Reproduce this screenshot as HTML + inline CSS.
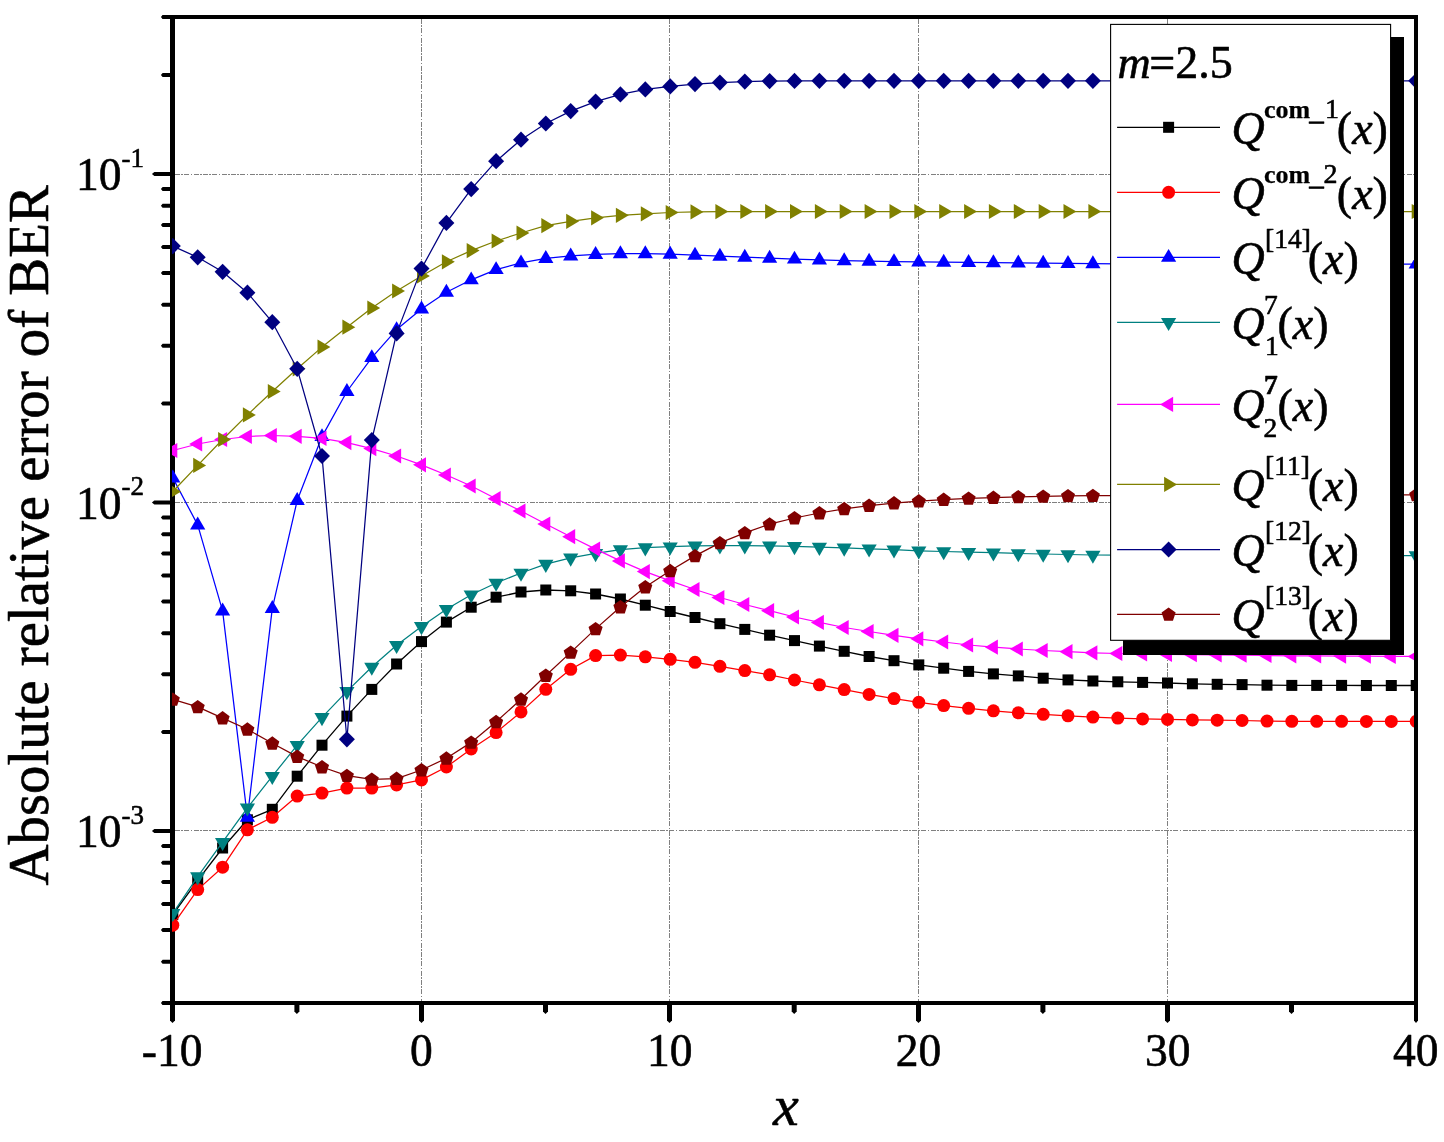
<!DOCTYPE html>
<html lang="en"><head><meta charset="utf-8"><title>Absolute relative error of BER, m=2.5</title>
<style>html,body{margin:0;padding:0;background:#fff}svg{display:block}text{font-family:"Liberation Serif",serif;fill:#000;stroke:#000;stroke-width:.6px;stroke-linejoin:round}</style>
</head><body>
<svg width="1444" height="1142" viewBox="0 0 1444 1142">
<rect width="1444" height="1142" fill="#fff"/>
<defs>
<g id="m-black"><rect x="-5.5" y="-5.5" width="11" height="11" fill="#000000"/></g>
<g id="m-red"><circle r="6.5" fill="#ff0000"/></g>
<g id="m-blue"><polygon points="0,-8.4 7.6,4.5 -7.6,4.5" fill="#0000ff"/></g>
<g id="m-teal"><polygon points="0,8.8 7.6,-4.3 -7.6,-4.3" fill="#008080"/></g>
<g id="m-magenta"><polygon points="-8.5,0 4.5,-7.6 4.5,7.6" fill="#ff00ff"/></g>
<g id="m-olive"><polygon points="8.4,0 -4.5,-7.6 -4.5,7.6" fill="#808000"/></g>
<g id="m-navy"><polygon points="0,-8.1 8,0 0,8.1 -8,0" fill="#000080"/></g>
<g id="m-maroon"><polygon points="0.00,-7.00 7.04,-1.89 4.35,6.39 -4.35,6.39 -7.04,-1.89" fill="#800000"/></g>
<clipPath id="plot"><rect x="172" y="19" width="1242" height="982"/></clipPath>
<clipPath id="leg"><rect x="1111" y="25" width="279.5" height="615"/></clipPath>
</defs>
<g stroke="#808080" stroke-width="1" stroke-dasharray="5 1.3 1.7 1.33" fill="none" shape-rendering="crispEdges">
<line x1="421.5" y1="19" x2="421.5" y2="1001"/>
<line x1="669.5" y1="19" x2="669.5" y2="1001"/>
<line x1="918.5" y1="19" x2="918.5" y2="1001"/>
<line x1="1167.5" y1="19" x2="1167.5" y2="1001"/>
<line x1="175" y1="174.5" x2="1414" y2="174.5"/>
<line x1="175" y1="502.5" x2="1414" y2="502.5"/>
<line x1="175" y1="830.5" x2="1414" y2="830.5"/>
</g>
<g fill="#000" stroke="none">
<rect x="170" y="15" width="5" height="1005.4"/>
<rect x="1414" y="15" width="4" height="1005.4"/>
<rect x="162.6" y="15" width="1255.4" height="4"/>
<rect x="162.6" y="1001" width="1255.4" height="4"/>
<polygon points="160.9,17.0 162.6,15.0 172,15.0 172,19.0 162.6,19.0"/>
<polygon points="160.9,1003.0 162.6,1001.0 172,1001.0 172,1005.0 162.6,1005.0"/>
<polygon points="170.0,1003 175.0,1003 175.0,1020.5 172.5,1023.1 170.0,1020.5"/>
<polygon points="294.4,1003 299.4,1003 299.4,1011.4 296.9,1014.0 294.4,1011.4"/>
<polygon points="419.0,1003 424.0,1003 424.0,1020.5 421.5,1023.1 419.0,1020.5"/>
<polygon points="543.0,1003 548.0,1003 548.0,1011.4 545.5,1014.0 543.0,1011.4"/>
<polygon points="667.0,1003 672.0,1003 672.0,1020.5 669.5,1023.1 667.0,1020.5"/>
<polygon points="791.7,1003 796.7,1003 796.7,1011.4 794.2,1014.0 791.7,1011.4"/>
<polygon points="916.0,1003 921.0,1003 921.0,1020.5 918.5,1023.1 916.0,1020.5"/>
<polygon points="1040.4,1003 1045.4,1003 1045.4,1011.4 1042.9,1014.0 1040.4,1011.4"/>
<polygon points="1165.0,1003 1170.0,1003 1170.0,1020.5 1167.5,1023.1 1165.0,1020.5"/>
<polygon points="1289.0,1003 1294.0,1003 1294.0,1011.4 1291.5,1014.0 1289.0,1011.4"/>
<polygon points="1414.0,1003 1418.0,1003 1418.0,1020.5 1416.0,1023.1 1414.0,1020.5"/>
<polygon points="160.9,961.7 162.6,959.7 172,959.7 172,963.7 162.6,963.7"/>
<polygon points="160.9,929.9 162.6,927.9 172,927.9 172,931.9 162.6,931.9"/>
<polygon points="160.9,903.9 162.6,901.9 172,901.9 172,905.9 162.6,905.9"/>
<polygon points="160.9,881.9 162.6,879.9 172,879.9 172,883.9 162.6,883.9"/>
<polygon points="160.9,862.8 162.6,860.8 172,860.8 172,864.8 162.6,864.8"/>
<polygon points="160.9,846.0 162.6,844.0 172,844.0 172,848.0 162.6,848.0"/>
<polygon points="151.9,831.0 154.3,829.0 172,829.0 172,833.0 154.3,833.0"/>
<polygon points="160.9,732.1 162.6,730.1 172,730.1 172,734.1 162.6,734.1"/>
<polygon points="160.9,674.3 162.6,672.3 172,672.3 172,676.3 162.6,676.3"/>
<polygon points="160.9,633.2 162.6,631.2 172,631.2 172,635.2 162.6,635.2"/>
<polygon points="160.9,601.4 162.6,599.4 172,599.4 172,603.4 162.6,603.4"/>
<polygon points="160.9,575.4 162.6,573.4 172,573.4 172,577.4 162.6,577.4"/>
<polygon points="160.9,553.4 162.6,551.4 172,551.4 172,555.4 162.6,555.4"/>
<polygon points="160.9,534.3 162.6,532.3 172,532.3 172,536.3 162.6,536.3"/>
<polygon points="160.9,517.5 162.6,515.5 172,515.5 172,519.5 162.6,519.5"/>
<polygon points="151.9,502.5 154.3,500.5 172,500.5 172,504.5 154.3,504.5"/>
<polygon points="160.9,403.6 162.6,401.6 172,401.6 172,405.6 162.6,405.6"/>
<polygon points="160.9,345.8 162.6,343.8 172,343.8 172,347.8 162.6,347.8"/>
<polygon points="160.9,304.7 162.6,302.7 172,302.7 172,306.7 162.6,306.7"/>
<polygon points="160.9,272.9 162.6,270.9 172,270.9 172,274.9 162.6,274.9"/>
<polygon points="160.9,246.9 162.6,244.9 172,244.9 172,248.9 162.6,248.9"/>
<polygon points="160.9,224.9 162.6,222.9 172,222.9 172,226.9 162.6,226.9"/>
<polygon points="160.9,205.8 162.6,203.8 172,203.8 172,207.8 162.6,207.8"/>
<polygon points="160.9,189.0 162.6,187.0 172,187.0 172,191.0 162.6,191.0"/>
<polygon points="151.9,174.0 154.3,172.0 172,172.0 172,176.0 154.3,176.0"/>
<polygon points="160.9,75.1 162.6,73.1 172,73.1 172,77.1 162.6,77.1"/>
</g>
<g clip-path="url(#plot)">
<polyline points="172.8,914.5 197.7,880.4 222.6,848.0 247.4,819.8 272.3,809.3 297.2,776.2 322.0,745.2 346.9,716.1 371.8,689.4 396.6,664.0 421.5,641.6 446.4,622.1 471.2,607.2 496.1,597.2 521.0,592.0 545.8,590.0 570.7,590.8 595.6,594.0 620.4,599.0 645.3,605.2 670.2,611.5 695.0,617.5 719.9,623.7 744.8,629.4 769.6,635.2 794.5,640.6 819.4,646.1 844.2,651.3 869.1,656.5 894.0,660.7 918.8,664.9 943.7,668.2 968.6,671.4 993.4,673.9 1018.3,675.9 1043.2,678.2 1068.0,679.9 1092.9,681.0 1117.8,681.8 1142.6,682.4 1167.5,683.0 1192.4,683.8 1217.2,684.3 1242.1,684.6 1267.0,685.2 1291.8,685.4 1316.7,685.4 1341.6,685.4 1366.4,685.5 1391.3,685.5 1416.2,685.5" fill="none" stroke="#000000" stroke-width="1.3" stroke-linejoin="round"/>
<g><use href="#m-black" x="172.8" y="914.5"/><use href="#m-black" x="197.7" y="880.4"/><use href="#m-black" x="222.6" y="848.0"/><use href="#m-black" x="247.4" y="819.8"/><use href="#m-black" x="272.3" y="809.3"/><use href="#m-black" x="297.2" y="776.2"/><use href="#m-black" x="322.0" y="745.2"/><use href="#m-black" x="346.9" y="716.1"/><use href="#m-black" x="371.8" y="689.4"/><use href="#m-black" x="396.6" y="664.0"/><use href="#m-black" x="421.5" y="641.6"/><use href="#m-black" x="446.4" y="622.1"/><use href="#m-black" x="471.2" y="607.2"/><use href="#m-black" x="496.1" y="597.2"/><use href="#m-black" x="521.0" y="592.0"/><use href="#m-black" x="545.8" y="590.0"/><use href="#m-black" x="570.7" y="590.8"/><use href="#m-black" x="595.6" y="594.0"/><use href="#m-black" x="620.4" y="599.0"/><use href="#m-black" x="645.3" y="605.2"/><use href="#m-black" x="670.2" y="611.5"/><use href="#m-black" x="695.0" y="617.5"/><use href="#m-black" x="719.9" y="623.7"/><use href="#m-black" x="744.8" y="629.4"/><use href="#m-black" x="769.6" y="635.2"/><use href="#m-black" x="794.5" y="640.6"/><use href="#m-black" x="819.4" y="646.1"/><use href="#m-black" x="844.2" y="651.3"/><use href="#m-black" x="869.1" y="656.5"/><use href="#m-black" x="894.0" y="660.7"/><use href="#m-black" x="918.8" y="664.9"/><use href="#m-black" x="943.7" y="668.2"/><use href="#m-black" x="968.6" y="671.4"/><use href="#m-black" x="993.4" y="673.9"/><use href="#m-black" x="1018.3" y="675.9"/><use href="#m-black" x="1043.2" y="678.2"/><use href="#m-black" x="1068.0" y="679.9"/><use href="#m-black" x="1092.9" y="681.0"/><use href="#m-black" x="1117.8" y="681.8"/><use href="#m-black" x="1142.6" y="682.4"/><use href="#m-black" x="1167.5" y="683.0"/><use href="#m-black" x="1192.4" y="683.8"/><use href="#m-black" x="1217.2" y="684.3"/><use href="#m-black" x="1242.1" y="684.6"/><use href="#m-black" x="1267.0" y="685.2"/><use href="#m-black" x="1291.8" y="685.4"/><use href="#m-black" x="1316.7" y="685.4"/><use href="#m-black" x="1341.6" y="685.4"/><use href="#m-black" x="1366.4" y="685.5"/><use href="#m-black" x="1391.3" y="685.5"/><use href="#m-black" x="1416.2" y="685.5"/></g>
<polyline points="172.8,925.2 197.7,889.6 222.6,867.2 247.4,829.8 272.3,817.3 297.2,796.1 322.0,793.1 346.9,788.1 371.8,788.1 396.6,784.9 421.5,779.9 446.4,767.0 471.2,749.0 496.1,732.6 521.0,711.9 545.8,689.3 570.7,669.3 595.6,655.6 620.4,655.1 645.3,656.8 670.2,659.3 695.0,662.3 719.9,666.3 744.8,670.6 769.6,674.8 794.5,680.0 819.4,684.8 844.2,689.6 869.1,694.4 894.0,698.6 918.8,702.3 943.7,705.6 968.6,708.3 993.4,710.8 1018.3,712.8 1043.2,714.3 1068.0,715.8 1092.9,717.1 1117.8,718.1 1142.6,718.9 1167.5,719.4 1192.4,719.9 1217.2,720.2 1242.1,720.5 1267.0,721.1 1291.8,721.3 1316.7,721.3 1341.6,721.3 1366.4,721.4 1391.3,721.4 1416.2,721.4" fill="none" stroke="#ff0000" stroke-width="1.25" stroke-linejoin="round"/>
<g><use href="#m-red" x="172.8" y="925.2"/><use href="#m-red" x="197.7" y="889.6"/><use href="#m-red" x="222.6" y="867.2"/><use href="#m-red" x="247.4" y="829.8"/><use href="#m-red" x="272.3" y="817.3"/><use href="#m-red" x="297.2" y="796.1"/><use href="#m-red" x="322.0" y="793.1"/><use href="#m-red" x="346.9" y="788.1"/><use href="#m-red" x="371.8" y="788.1"/><use href="#m-red" x="396.6" y="784.9"/><use href="#m-red" x="421.5" y="779.9"/><use href="#m-red" x="446.4" y="767.0"/><use href="#m-red" x="471.2" y="749.0"/><use href="#m-red" x="496.1" y="732.6"/><use href="#m-red" x="521.0" y="711.9"/><use href="#m-red" x="545.8" y="689.3"/><use href="#m-red" x="570.7" y="669.3"/><use href="#m-red" x="595.6" y="655.6"/><use href="#m-red" x="620.4" y="655.1"/><use href="#m-red" x="645.3" y="656.8"/><use href="#m-red" x="670.2" y="659.3"/><use href="#m-red" x="695.0" y="662.3"/><use href="#m-red" x="719.9" y="666.3"/><use href="#m-red" x="744.8" y="670.6"/><use href="#m-red" x="769.6" y="674.8"/><use href="#m-red" x="794.5" y="680.0"/><use href="#m-red" x="819.4" y="684.8"/><use href="#m-red" x="844.2" y="689.6"/><use href="#m-red" x="869.1" y="694.4"/><use href="#m-red" x="894.0" y="698.6"/><use href="#m-red" x="918.8" y="702.3"/><use href="#m-red" x="943.7" y="705.6"/><use href="#m-red" x="968.6" y="708.3"/><use href="#m-red" x="993.4" y="710.8"/><use href="#m-red" x="1018.3" y="712.8"/><use href="#m-red" x="1043.2" y="714.3"/><use href="#m-red" x="1068.0" y="715.8"/><use href="#m-red" x="1092.9" y="717.1"/><use href="#m-red" x="1117.8" y="718.1"/><use href="#m-red" x="1142.6" y="718.9"/><use href="#m-red" x="1167.5" y="719.4"/><use href="#m-red" x="1192.4" y="719.9"/><use href="#m-red" x="1217.2" y="720.2"/><use href="#m-red" x="1242.1" y="720.5"/><use href="#m-red" x="1267.0" y="721.1"/><use href="#m-red" x="1291.8" y="721.3"/><use href="#m-red" x="1316.7" y="721.3"/><use href="#m-red" x="1341.6" y="721.3"/><use href="#m-red" x="1366.4" y="721.4"/><use href="#m-red" x="1391.3" y="721.4"/><use href="#m-red" x="1416.2" y="721.4"/></g>
<polyline points="172.8,477.9 197.7,524.9 222.6,610.9 247.4,817.3 272.3,608.4 297.2,500.5 322.0,436.6 346.9,391.5 371.8,357.6 396.6,329.6 421.5,309.0 446.4,292.2 471.2,279.8 496.1,269.6 521.0,262.8 545.8,258.4 570.7,255.9 595.6,254.4 620.4,253.7 645.3,253.7 670.2,254.2 695.0,255.2 719.9,256.2 744.8,257.2 769.6,258.2 794.5,259.1 819.4,259.9 844.2,260.7 869.1,261.2 894.0,261.6 918.8,261.9 943.7,262.2 968.6,262.4 993.4,262.7 1018.3,262.9 1043.2,263.2 1068.0,263.4 1092.9,263.7 1117.8,263.8 1142.6,263.8 1167.5,263.9 1192.4,263.9 1217.2,264.0 1242.1,264.0 1267.0,264.0 1291.8,264.0 1316.7,264.0 1341.6,264.0 1366.4,264.0 1391.3,264.0 1416.2,264.0" fill="none" stroke="#0000ff" stroke-width="1.25" stroke-linejoin="round"/>
<g><use href="#m-blue" x="172.8" y="477.9"/><use href="#m-blue" x="197.7" y="524.9"/><use href="#m-blue" x="222.6" y="610.9"/><use href="#m-blue" x="247.4" y="817.3"/><use href="#m-blue" x="272.3" y="608.4"/><use href="#m-blue" x="297.2" y="500.5"/><use href="#m-blue" x="322.0" y="436.6"/><use href="#m-blue" x="346.9" y="391.5"/><use href="#m-blue" x="371.8" y="357.6"/><use href="#m-blue" x="396.6" y="329.6"/><use href="#m-blue" x="421.5" y="309.0"/><use href="#m-blue" x="446.4" y="292.2"/><use href="#m-blue" x="471.2" y="279.8"/><use href="#m-blue" x="496.1" y="269.6"/><use href="#m-blue" x="521.0" y="262.8"/><use href="#m-blue" x="545.8" y="258.4"/><use href="#m-blue" x="570.7" y="255.9"/><use href="#m-blue" x="595.6" y="254.4"/><use href="#m-blue" x="620.4" y="253.7"/><use href="#m-blue" x="645.3" y="253.7"/><use href="#m-blue" x="670.2" y="254.2"/><use href="#m-blue" x="695.0" y="255.2"/><use href="#m-blue" x="719.9" y="256.2"/><use href="#m-blue" x="744.8" y="257.2"/><use href="#m-blue" x="769.6" y="258.2"/><use href="#m-blue" x="794.5" y="259.1"/><use href="#m-blue" x="819.4" y="259.9"/><use href="#m-blue" x="844.2" y="260.7"/><use href="#m-blue" x="869.1" y="261.2"/><use href="#m-blue" x="894.0" y="261.6"/><use href="#m-blue" x="918.8" y="261.9"/><use href="#m-blue" x="943.7" y="262.2"/><use href="#m-blue" x="968.6" y="262.4"/><use href="#m-blue" x="993.4" y="262.7"/><use href="#m-blue" x="1018.3" y="262.9"/><use href="#m-blue" x="1043.2" y="263.2"/><use href="#m-blue" x="1068.0" y="263.4"/><use href="#m-blue" x="1092.9" y="263.7"/><use href="#m-blue" x="1117.8" y="263.8"/><use href="#m-blue" x="1142.6" y="263.8"/><use href="#m-blue" x="1167.5" y="263.9"/><use href="#m-blue" x="1192.4" y="263.9"/><use href="#m-blue" x="1217.2" y="264.0"/><use href="#m-blue" x="1242.1" y="264.0"/><use href="#m-blue" x="1267.0" y="264.0"/><use href="#m-blue" x="1291.8" y="264.0"/><use href="#m-blue" x="1316.7" y="264.0"/><use href="#m-blue" x="1341.6" y="264.0"/><use href="#m-blue" x="1366.4" y="264.0"/><use href="#m-blue" x="1391.3" y="264.0"/><use href="#m-blue" x="1416.2" y="264.0"/></g>
<polyline points="172.8,913.3 197.7,876.6 222.6,842.2 247.4,807.8 272.3,776.2 297.2,745.2 322.0,717.4 346.9,691.4 371.8,667.0 396.6,645.3 421.5,626.4 446.4,609.2 471.2,594.7 496.1,583.0 521.0,573.0 545.8,564.1 570.7,557.9 595.6,553.4 620.4,549.6 645.3,547.6 670.2,546.7 695.0,545.9 719.9,545.7 744.8,545.7 769.6,545.9 794.5,546.4 819.4,547.1 844.2,547.9 869.1,548.8 894.0,549.7 918.8,550.8 943.7,551.5 968.6,552.2 993.4,552.7 1018.3,553.5 1043.2,554.0 1068.0,554.5 1092.9,555.0 1117.8,555.1 1142.6,555.2 1167.5,555.2 1192.4,555.3 1217.2,555.4 1242.1,555.4 1267.0,555.4 1291.8,555.4 1316.7,555.5 1341.6,555.5 1366.4,555.5 1391.3,555.5 1416.2,555.5" fill="none" stroke="#008080" stroke-width="1.25" stroke-linejoin="round"/>
<g><use href="#m-teal" x="172.8" y="913.3"/><use href="#m-teal" x="197.7" y="876.6"/><use href="#m-teal" x="222.6" y="842.2"/><use href="#m-teal" x="247.4" y="807.8"/><use href="#m-teal" x="272.3" y="776.2"/><use href="#m-teal" x="297.2" y="745.2"/><use href="#m-teal" x="322.0" y="717.4"/><use href="#m-teal" x="346.9" y="691.4"/><use href="#m-teal" x="371.8" y="667.0"/><use href="#m-teal" x="396.6" y="645.3"/><use href="#m-teal" x="421.5" y="626.4"/><use href="#m-teal" x="446.4" y="609.2"/><use href="#m-teal" x="471.2" y="594.7"/><use href="#m-teal" x="496.1" y="583.0"/><use href="#m-teal" x="521.0" y="573.0"/><use href="#m-teal" x="545.8" y="564.1"/><use href="#m-teal" x="570.7" y="557.9"/><use href="#m-teal" x="595.6" y="553.4"/><use href="#m-teal" x="620.4" y="549.6"/><use href="#m-teal" x="645.3" y="547.6"/><use href="#m-teal" x="670.2" y="546.7"/><use href="#m-teal" x="695.0" y="545.9"/><use href="#m-teal" x="719.9" y="545.7"/><use href="#m-teal" x="744.8" y="545.7"/><use href="#m-teal" x="769.6" y="545.9"/><use href="#m-teal" x="794.5" y="546.4"/><use href="#m-teal" x="819.4" y="547.1"/><use href="#m-teal" x="844.2" y="547.9"/><use href="#m-teal" x="869.1" y="548.8"/><use href="#m-teal" x="894.0" y="549.7"/><use href="#m-teal" x="918.8" y="550.8"/><use href="#m-teal" x="943.7" y="551.5"/><use href="#m-teal" x="968.6" y="552.2"/><use href="#m-teal" x="993.4" y="552.7"/><use href="#m-teal" x="1018.3" y="553.5"/><use href="#m-teal" x="1043.2" y="554.0"/><use href="#m-teal" x="1068.0" y="554.5"/><use href="#m-teal" x="1092.9" y="555.0"/><use href="#m-teal" x="1117.8" y="555.1"/><use href="#m-teal" x="1142.6" y="555.2"/><use href="#m-teal" x="1167.5" y="555.2"/><use href="#m-teal" x="1192.4" y="555.3"/><use href="#m-teal" x="1217.2" y="555.4"/><use href="#m-teal" x="1242.1" y="555.4"/><use href="#m-teal" x="1267.0" y="555.4"/><use href="#m-teal" x="1291.8" y="555.4"/><use href="#m-teal" x="1316.7" y="555.5"/><use href="#m-teal" x="1341.6" y="555.5"/><use href="#m-teal" x="1366.4" y="555.5"/><use href="#m-teal" x="1391.3" y="555.5"/><use href="#m-teal" x="1416.2" y="555.5"/></g>
<polyline points="172.8,450.5 197.7,444.0 222.6,439.5 247.4,436.5 272.3,435.5 297.2,436.3 322.0,438.4 346.9,442.6 371.8,448.6 396.6,456.0 421.5,464.8 446.4,475.0 471.2,486.0 496.1,498.7 521.0,511.0 545.8,524.0 570.7,536.7 595.6,549.1 620.4,560.9 645.3,571.6 670.2,580.8 695.0,589.5 719.9,597.5 744.8,604.5 769.6,610.7 794.5,617.0 819.4,622.4 844.2,627.5 869.1,631.5 894.0,635.3 918.8,638.8 943.7,642.0 968.6,645.0 993.4,647.2 1018.3,649.0 1043.2,650.5 1068.0,651.7 1092.9,652.8 1117.8,653.5 1142.6,654.0 1167.5,654.4 1192.4,654.7 1217.2,655.0 1242.1,655.2 1267.0,655.5 1291.8,655.8 1316.7,655.9 1341.6,656.1 1366.4,656.2 1391.3,656.4 1416.2,656.5" fill="none" stroke="#ff00ff" stroke-width="1.25" stroke-linejoin="round"/>
<g><use href="#m-magenta" x="172.8" y="450.5"/><use href="#m-magenta" x="197.7" y="444.0"/><use href="#m-magenta" x="222.6" y="439.5"/><use href="#m-magenta" x="247.4" y="436.5"/><use href="#m-magenta" x="272.3" y="435.5"/><use href="#m-magenta" x="297.2" y="436.3"/><use href="#m-magenta" x="322.0" y="438.4"/><use href="#m-magenta" x="346.9" y="442.6"/><use href="#m-magenta" x="371.8" y="448.6"/><use href="#m-magenta" x="396.6" y="456.0"/><use href="#m-magenta" x="421.5" y="464.8"/><use href="#m-magenta" x="446.4" y="475.0"/><use href="#m-magenta" x="471.2" y="486.0"/><use href="#m-magenta" x="496.1" y="498.7"/><use href="#m-magenta" x="521.0" y="511.0"/><use href="#m-magenta" x="545.8" y="524.0"/><use href="#m-magenta" x="570.7" y="536.7"/><use href="#m-magenta" x="595.6" y="549.1"/><use href="#m-magenta" x="620.4" y="560.9"/><use href="#m-magenta" x="645.3" y="571.6"/><use href="#m-magenta" x="670.2" y="580.8"/><use href="#m-magenta" x="695.0" y="589.5"/><use href="#m-magenta" x="719.9" y="597.5"/><use href="#m-magenta" x="744.8" y="604.5"/><use href="#m-magenta" x="769.6" y="610.7"/><use href="#m-magenta" x="794.5" y="617.0"/><use href="#m-magenta" x="819.4" y="622.4"/><use href="#m-magenta" x="844.2" y="627.5"/><use href="#m-magenta" x="869.1" y="631.5"/><use href="#m-magenta" x="894.0" y="635.3"/><use href="#m-magenta" x="918.8" y="638.8"/><use href="#m-magenta" x="943.7" y="642.0"/><use href="#m-magenta" x="968.6" y="645.0"/><use href="#m-magenta" x="993.4" y="647.2"/><use href="#m-magenta" x="1018.3" y="649.0"/><use href="#m-magenta" x="1043.2" y="650.5"/><use href="#m-magenta" x="1068.0" y="651.7"/><use href="#m-magenta" x="1092.9" y="652.8"/><use href="#m-magenta" x="1117.8" y="653.5"/><use href="#m-magenta" x="1142.6" y="654.0"/><use href="#m-magenta" x="1167.5" y="654.4"/><use href="#m-magenta" x="1192.4" y="654.7"/><use href="#m-magenta" x="1217.2" y="655.0"/><use href="#m-magenta" x="1242.1" y="655.2"/><use href="#m-magenta" x="1267.0" y="655.5"/><use href="#m-magenta" x="1291.8" y="655.8"/><use href="#m-magenta" x="1316.7" y="655.9"/><use href="#m-magenta" x="1341.6" y="656.1"/><use href="#m-magenta" x="1366.4" y="656.2"/><use href="#m-magenta" x="1391.3" y="656.4"/><use href="#m-magenta" x="1416.2" y="656.5"/></g>
<polyline points="172.8,491.5 197.7,465.4 222.6,439.5 247.4,414.9 272.3,391.5 297.2,368.8 322.0,347.1 346.9,327.2 371.8,308.0 396.6,291.0 421.5,276.0 446.4,261.8 471.2,250.6 496.1,241.0 521.0,233.0 545.8,225.7 570.7,221.3 595.6,217.8 620.4,215.3 645.3,213.8 670.2,212.5 695.0,211.9 719.9,211.6 744.8,211.5 769.6,211.5 794.5,211.5 819.4,211.5 844.2,211.5 869.1,211.5 894.0,211.5 918.8,211.5 943.7,211.5 968.6,211.5 993.4,211.5 1018.3,211.5 1043.2,211.5 1068.0,211.5 1092.9,211.5 1117.8,211.5 1142.6,211.5 1167.5,211.5 1192.4,211.5 1217.2,211.5 1242.1,211.5 1267.0,211.5 1291.8,211.5 1316.7,211.5 1341.6,211.5 1366.4,211.5 1391.3,211.5 1416.2,211.5" fill="none" stroke="#808000" stroke-width="1.25" stroke-linejoin="round"/>
<g><use href="#m-olive" x="172.8" y="491.5"/><use href="#m-olive" x="197.7" y="465.4"/><use href="#m-olive" x="222.6" y="439.5"/><use href="#m-olive" x="247.4" y="414.9"/><use href="#m-olive" x="272.3" y="391.5"/><use href="#m-olive" x="297.2" y="368.8"/><use href="#m-olive" x="322.0" y="347.1"/><use href="#m-olive" x="346.9" y="327.2"/><use href="#m-olive" x="371.8" y="308.0"/><use href="#m-olive" x="396.6" y="291.0"/><use href="#m-olive" x="421.5" y="276.0"/><use href="#m-olive" x="446.4" y="261.8"/><use href="#m-olive" x="471.2" y="250.6"/><use href="#m-olive" x="496.1" y="241.0"/><use href="#m-olive" x="521.0" y="233.0"/><use href="#m-olive" x="545.8" y="225.7"/><use href="#m-olive" x="570.7" y="221.3"/><use href="#m-olive" x="595.6" y="217.8"/><use href="#m-olive" x="620.4" y="215.3"/><use href="#m-olive" x="645.3" y="213.8"/><use href="#m-olive" x="670.2" y="212.5"/><use href="#m-olive" x="695.0" y="211.9"/><use href="#m-olive" x="719.9" y="211.6"/><use href="#m-olive" x="744.8" y="211.5"/><use href="#m-olive" x="769.6" y="211.5"/><use href="#m-olive" x="794.5" y="211.5"/><use href="#m-olive" x="819.4" y="211.5"/><use href="#m-olive" x="844.2" y="211.5"/><use href="#m-olive" x="869.1" y="211.5"/><use href="#m-olive" x="894.0" y="211.5"/><use href="#m-olive" x="918.8" y="211.5"/><use href="#m-olive" x="943.7" y="211.5"/><use href="#m-olive" x="968.6" y="211.5"/><use href="#m-olive" x="993.4" y="211.5"/><use href="#m-olive" x="1018.3" y="211.5"/><use href="#m-olive" x="1043.2" y="211.5"/><use href="#m-olive" x="1068.0" y="211.5"/><use href="#m-olive" x="1092.9" y="211.5"/><use href="#m-olive" x="1117.8" y="211.5"/><use href="#m-olive" x="1142.6" y="211.5"/><use href="#m-olive" x="1167.5" y="211.5"/><use href="#m-olive" x="1192.4" y="211.5"/><use href="#m-olive" x="1217.2" y="211.5"/><use href="#m-olive" x="1242.1" y="211.5"/><use href="#m-olive" x="1267.0" y="211.5"/><use href="#m-olive" x="1291.8" y="211.5"/><use href="#m-olive" x="1316.7" y="211.5"/><use href="#m-olive" x="1341.6" y="211.5"/><use href="#m-olive" x="1366.4" y="211.5"/><use href="#m-olive" x="1391.3" y="211.5"/><use href="#m-olive" x="1416.2" y="211.5"/></g>
<polyline points="172.8,246.1 197.7,257.3 222.6,271.8 247.4,292.7 272.3,322.2 297.2,368.8 322.0,456.0 346.9,739.3 371.8,440.1 396.6,333.4 421.5,268.6 446.4,222.9 471.2,189.1 496.1,161.2 521.0,139.7 545.8,123.5 570.7,111.1 595.6,101.6 620.4,94.4 645.3,89.4 670.2,86.4 695.0,84.1 719.9,82.6 744.8,81.6 769.6,81.1 794.5,80.9 819.4,80.8 844.2,80.8 869.1,80.8 894.0,80.8 918.8,80.8 943.7,80.8 968.6,80.8 993.4,80.8 1018.3,80.8 1043.2,80.8 1068.0,80.8 1092.9,80.8 1117.8,80.8 1142.6,80.8 1167.5,80.8 1192.4,80.8 1217.2,80.8 1242.1,80.8 1267.0,80.8 1291.8,80.8 1316.7,80.8 1341.6,80.8 1366.4,80.8 1391.3,80.8 1416.2,80.8" fill="none" stroke="#000080" stroke-width="1.25" stroke-linejoin="round"/>
<g><use href="#m-navy" x="172.8" y="246.1"/><use href="#m-navy" x="197.7" y="257.3"/><use href="#m-navy" x="222.6" y="271.8"/><use href="#m-navy" x="247.4" y="292.7"/><use href="#m-navy" x="272.3" y="322.2"/><use href="#m-navy" x="297.2" y="368.8"/><use href="#m-navy" x="322.0" y="456.0"/><use href="#m-navy" x="346.9" y="739.3"/><use href="#m-navy" x="371.8" y="440.1"/><use href="#m-navy" x="396.6" y="333.4"/><use href="#m-navy" x="421.5" y="268.6"/><use href="#m-navy" x="446.4" y="222.9"/><use href="#m-navy" x="471.2" y="189.1"/><use href="#m-navy" x="496.1" y="161.2"/><use href="#m-navy" x="521.0" y="139.7"/><use href="#m-navy" x="545.8" y="123.5"/><use href="#m-navy" x="570.7" y="111.1"/><use href="#m-navy" x="595.6" y="101.6"/><use href="#m-navy" x="620.4" y="94.4"/><use href="#m-navy" x="645.3" y="89.4"/><use href="#m-navy" x="670.2" y="86.4"/><use href="#m-navy" x="695.0" y="84.1"/><use href="#m-navy" x="719.9" y="82.6"/><use href="#m-navy" x="744.8" y="81.6"/><use href="#m-navy" x="769.6" y="81.1"/><use href="#m-navy" x="794.5" y="80.9"/><use href="#m-navy" x="819.4" y="80.8"/><use href="#m-navy" x="844.2" y="80.8"/><use href="#m-navy" x="869.1" y="80.8"/><use href="#m-navy" x="894.0" y="80.8"/><use href="#m-navy" x="918.8" y="80.8"/><use href="#m-navy" x="943.7" y="80.8"/><use href="#m-navy" x="968.6" y="80.8"/><use href="#m-navy" x="993.4" y="80.8"/><use href="#m-navy" x="1018.3" y="80.8"/><use href="#m-navy" x="1043.2" y="80.8"/><use href="#m-navy" x="1068.0" y="80.8"/><use href="#m-navy" x="1092.9" y="80.8"/><use href="#m-navy" x="1117.8" y="80.8"/><use href="#m-navy" x="1142.6" y="80.8"/><use href="#m-navy" x="1167.5" y="80.8"/><use href="#m-navy" x="1192.4" y="80.8"/><use href="#m-navy" x="1217.2" y="80.8"/><use href="#m-navy" x="1242.1" y="80.8"/><use href="#m-navy" x="1267.0" y="80.8"/><use href="#m-navy" x="1291.8" y="80.8"/><use href="#m-navy" x="1316.7" y="80.8"/><use href="#m-navy" x="1341.6" y="80.8"/><use href="#m-navy" x="1366.4" y="80.8"/><use href="#m-navy" x="1391.3" y="80.8"/><use href="#m-navy" x="1416.2" y="80.8"/></g>
<polyline points="172.8,699.4 197.7,706.9 222.6,718.1 247.4,729.3 272.3,743.3 297.2,756.6 322.0,767.0 346.9,775.7 371.8,779.4 396.6,778.6 421.5,770.0 446.4,758.3 471.2,742.4 496.1,721.8 521.0,699.3 545.8,675.5 570.7,652.4 595.6,628.9 620.4,607.0 645.3,587.0 670.2,570.8 695.0,555.9 719.9,542.9 744.8,532.9 769.6,524.2 794.5,518.0 819.4,513.0 844.2,508.8 869.1,505.6 894.0,503.1 918.8,501.1 943.7,499.6 968.6,498.4 993.4,497.6 1018.3,496.9 1043.2,496.4 1068.0,495.9 1092.9,495.7 1117.8,495.6 1142.6,495.5 1167.5,495.4 1192.4,495.3 1217.2,495.2 1242.1,495.1 1267.0,495.1 1291.8,495.1 1316.7,495.0 1341.6,494.9 1366.4,494.9 1391.3,494.9 1416.2,494.8" fill="none" stroke="#800000" stroke-width="1.25" stroke-linejoin="round"/>
<g><use href="#m-maroon" x="172.8" y="699.4"/><use href="#m-maroon" x="197.7" y="706.9"/><use href="#m-maroon" x="222.6" y="718.1"/><use href="#m-maroon" x="247.4" y="729.3"/><use href="#m-maroon" x="272.3" y="743.3"/><use href="#m-maroon" x="297.2" y="756.6"/><use href="#m-maroon" x="322.0" y="767.0"/><use href="#m-maroon" x="346.9" y="775.7"/><use href="#m-maroon" x="371.8" y="779.4"/><use href="#m-maroon" x="396.6" y="778.6"/><use href="#m-maroon" x="421.5" y="770.0"/><use href="#m-maroon" x="446.4" y="758.3"/><use href="#m-maroon" x="471.2" y="742.4"/><use href="#m-maroon" x="496.1" y="721.8"/><use href="#m-maroon" x="521.0" y="699.3"/><use href="#m-maroon" x="545.8" y="675.5"/><use href="#m-maroon" x="570.7" y="652.4"/><use href="#m-maroon" x="595.6" y="628.9"/><use href="#m-maroon" x="620.4" y="607.0"/><use href="#m-maroon" x="645.3" y="587.0"/><use href="#m-maroon" x="670.2" y="570.8"/><use href="#m-maroon" x="695.0" y="555.9"/><use href="#m-maroon" x="719.9" y="542.9"/><use href="#m-maroon" x="744.8" y="532.9"/><use href="#m-maroon" x="769.6" y="524.2"/><use href="#m-maroon" x="794.5" y="518.0"/><use href="#m-maroon" x="819.4" y="513.0"/><use href="#m-maroon" x="844.2" y="508.8"/><use href="#m-maroon" x="869.1" y="505.6"/><use href="#m-maroon" x="894.0" y="503.1"/><use href="#m-maroon" x="918.8" y="501.1"/><use href="#m-maroon" x="943.7" y="499.6"/><use href="#m-maroon" x="968.6" y="498.4"/><use href="#m-maroon" x="993.4" y="497.6"/><use href="#m-maroon" x="1018.3" y="496.9"/><use href="#m-maroon" x="1043.2" y="496.4"/><use href="#m-maroon" x="1068.0" y="495.9"/><use href="#m-maroon" x="1092.9" y="495.7"/><use href="#m-maroon" x="1117.8" y="495.6"/><use href="#m-maroon" x="1142.6" y="495.5"/><use href="#m-maroon" x="1167.5" y="495.4"/><use href="#m-maroon" x="1192.4" y="495.3"/><use href="#m-maroon" x="1217.2" y="495.2"/><use href="#m-maroon" x="1242.1" y="495.1"/><use href="#m-maroon" x="1267.0" y="495.1"/><use href="#m-maroon" x="1291.8" y="495.1"/><use href="#m-maroon" x="1316.7" y="495.0"/><use href="#m-maroon" x="1341.6" y="494.9"/><use href="#m-maroon" x="1366.4" y="494.9"/><use href="#m-maroon" x="1391.3" y="494.9"/><use href="#m-maroon" x="1416.2" y="494.8"/></g>
</g>
<text x="172.2" y="1066.3" font-size="45.5" text-anchor="middle">-10</text>
<text x="421.3" y="1066.3" font-size="45.5" text-anchor="middle">0</text>
<text x="669.7" y="1066.3" font-size="45.5" text-anchor="middle">10</text>
<text x="918.6" y="1066.3" font-size="45.5" text-anchor="middle">20</text>
<text x="1167.7" y="1066.3" font-size="45.5" text-anchor="middle">30</text>
<text x="1415.8" y="1066.3" font-size="45.5" text-anchor="middle">40</text>
<text x="75.9" y="190.1" font-size="45.5">10<tspan font-size="27" dy="-23.3">-1</tspan></text>
<text x="75.9" y="518.6" font-size="45.5">10<tspan font-size="27" dy="-23.3">-2</tspan></text>
<text x="75.9" y="847.1" font-size="45.5">10<tspan font-size="27" dy="-23.3">-3</tspan></text>
<text x="785.8" y="1124.5" font-size="58" font-style="italic" text-anchor="middle">x</text>
<text transform="translate(47.8,885.5) rotate(-90)" font-size="56.8">Absolute relative error of BER</text>
<rect x="1123" y="37" width="281" height="618" fill="#000"/>
<rect x="1110.6" y="24.4" width="280" height="615.9" fill="#fff" stroke="#000" stroke-width="1.1"/>
<g clip-path="url(#leg)" style="stroke-width:.85px">
<text x="1117.5" y="78.2" font-size="46"><tspan font-style="italic">m</tspan><tspan dx="-1.5">=2.5</tspan></text>
<line x1="1117.1" y1="127.3" x2="1220" y2="127.3" stroke="#000000" stroke-width="1.3"/>
<use href="#m-black" x="1168.6" y="127.3"/>
<text><tspan x="1231.5" y="143.8" font-style="italic" font-size="46">Q</tspan><tspan x="1264" y="118.1" font-size="26" font-weight="bold" style="stroke-width:.25px">com</tspan><tspan x="1309.2" y="120.2" font-size="29">_</tspan><tspan x="1325" y="118.1" font-size="28">1</tspan><tspan x="1336.8" y="143.8" font-size="46">(<tspan font-style="italic">x</tspan>)</tspan></text>
<line x1="1117.1" y1="192.3" x2="1220" y2="192.3" stroke="#ff0000" stroke-width="1.25"/>
<use href="#m-red" x="1168.6" y="192.3"/>
<text><tspan x="1231.5" y="208.8" font-style="italic" font-size="46">Q</tspan><tspan x="1264" y="183.1" font-size="26" font-weight="bold" style="stroke-width:.25px">com</tspan><tspan x="1309.2" y="185.2" font-size="29">_</tspan><tspan x="1323.5" y="183.1" font-size="28">2</tspan><tspan x="1336.8" y="208.8" font-size="46">(<tspan font-style="italic">x</tspan>)</tspan></text>
<line x1="1117.1" y1="257.3" x2="1220" y2="257.3" stroke="#0000ff" stroke-width="1.25"/>
<use href="#m-blue" x="1168.6" y="257.3"/>
<text><tspan x="1231.5" y="273.8" font-style="italic" font-size="46">Q</tspan><tspan x="1265" y="248.1" font-size="27.5">[14]</tspan><tspan x="1307.7" y="273.8" font-size="46">(<tspan font-style="italic">x</tspan>)</tspan></text>
<line x1="1117.1" y1="322.3" x2="1220" y2="322.3" stroke="#008080" stroke-width="1.25"/>
<use href="#m-teal" x="1168.6" y="322.3"/>
<text><tspan x="1231.5" y="338.8" font-style="italic" font-size="46">Q</tspan><tspan x="1264" y="314.0" font-size="27.5" font-weight="normal">7</tspan><tspan x="1265" y="355.3" font-size="27.5">1</tspan><tspan x="1277.5" y="338.8" font-size="46">(<tspan font-style="italic">x</tspan>)</tspan></text>
<line x1="1117.1" y1="404.4" x2="1220" y2="404.4" stroke="#ff00ff" stroke-width="1.25"/>
<use href="#m-magenta" x="1168.6" y="404.4"/>
<text><tspan x="1231.5" y="420.9" font-style="italic" font-size="46">Q</tspan><tspan x="1264" y="393.5" font-size="27.5" font-weight="bold">7</tspan><tspan x="1263.6" y="437.4" font-size="27.5">2</tspan><tspan x="1277.5" y="420.9" font-size="46">(<tspan font-style="italic">x</tspan>)</tspan></text>
<line x1="1117.1" y1="484.4" x2="1220" y2="484.4" stroke="#808000" stroke-width="1.25"/>
<use href="#m-olive" x="1168.6" y="484.4"/>
<text><tspan x="1231.5" y="500.9" font-style="italic" font-size="46">Q</tspan><tspan x="1265" y="475.2" font-size="27.5">[11]</tspan><tspan x="1307.7" y="500.9" font-size="46">(<tspan font-style="italic">x</tspan>)</tspan></text>
<line x1="1117.1" y1="549.5" x2="1220" y2="549.5" stroke="#000080" stroke-width="1.25"/>
<use href="#m-navy" x="1168.6" y="549.5"/>
<text><tspan x="1231.5" y="566.0" font-style="italic" font-size="46">Q</tspan><tspan x="1265" y="540.3" font-size="27.5">[12]</tspan><tspan x="1307.7" y="566.0" font-size="46">(<tspan font-style="italic">x</tspan>)</tspan></text>
<line x1="1117.1" y1="614.4" x2="1220" y2="614.4" stroke="#800000" stroke-width="1.25"/>
<use href="#m-maroon" x="1168.6" y="614.4"/>
<text><tspan x="1231.5" y="630.9" font-style="italic" font-size="46">Q</tspan><tspan x="1265" y="605.2" font-size="27.5">[13]</tspan><tspan x="1307.7" y="630.9" font-size="46">(<tspan font-style="italic">x</tspan>)</tspan></text>
</g>
</svg></body></html>
